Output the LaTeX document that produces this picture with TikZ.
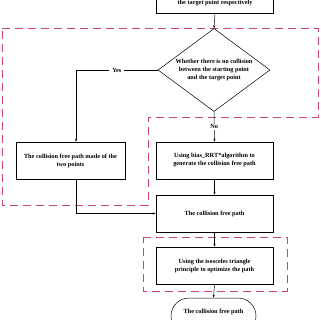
\documentclass[tikz,border=0pt]{standalone}
\usepackage{fontspec}
\setmainfont{Liberation Serif}
\usetikzlibrary{shapes.geometric,shapes.misc,arrows.meta}
\definecolor{dashred}{RGB}{205,70,105}
\tikzset{
  x=1pt,y=-1pt,
  every node/.style={font=\bfseries\fontsize{6.3}{8}\selectfont, align=center, inner sep=0pt},
  box/.style={draw, line width=0.5pt, minimum width=117pt, minimum height=37pt},
  term/.style={draw, line width=0.5pt, rounded rectangle, minimum width=85pt, minimum height=36pt},
  conn/.style={line width=0.5pt, -{Stealth[length=3pt,width=2.2pt]}},
  plain/.style={line width=0.5pt},
  region/.style={draw=dashred, line width=0.7pt, dash pattern=on 8pt off 5pt},
}
\begin{document}
\begin{tikzpicture}
\useasboundingbox (0,0) rectangle (320,320);
\fill[white] (0,0) rectangle (320,320);
% regions
\draw[region] (2,28) -- (318,28) -- (318,117) -- (148,117) -- (148,205) -- (2,205) -- cycle;
\draw[region] (143,237) -- (287,237) -- (287,291) -- (143,291) -- cycle;
% top box
\node[box, minimum height=40pt, anchor=north] (top) at (215,-27) {};
\node (toptext) at (215,3) {the target point respectively};
% diamond
\node[draw, diamond, line width=0.5pt, minimum width=112pt, minimum height=83pt, aspect=1.35] (dec) at (214,70) {};
\node (dectext) at (214,70) {Whether there is no collision\\between the starting point\\and the target point};
% boxes
\node[box, minimum width=109pt] (left) at (70.5,160.5) {The collision free path made of the\\two points};
\node[box] (rrt) at (214.5,160.5) {Using bias\_RRT*algorithm to\\generate the collision free path};
\node[box] (cfp) at (214.5,213.5) {The collision free path};
\node[box] (iso) at (214.5,265.5) {Using the isosceles triangle\\principle to optimize the path};
\node[term] (end) at (213.5,316) {};
\node (endtext) at (213.5,312) {The collision free path};
% connectors
\draw[conn] (top.south) -- (dec.north);
\coordinate (yc) at (76,70);
\draw[plain] (dec.west) -- node[fill=white, inner xsep=3pt, inner ysep=1pt] (yes) {Yes} (yc);
\draw[conn] (yc) -- (left.north -| yc);
\draw[conn] (dec.south) -- node[pos=0.5, fill=white, inner sep=1pt] (no) {No} (rrt.north);
\draw[conn] (rrt.south) -- (cfp.north);
\coordinate (lc) at (76,213.5);
\draw[plain] (left.south -| lc) -- (lc);
\draw[conn] (lc) -- (cfp.west);
\draw[conn] (cfp.south) -- (iso.north);
\draw[conn] (iso.south) -- (end.north);
\end{tikzpicture}
\end{document}
